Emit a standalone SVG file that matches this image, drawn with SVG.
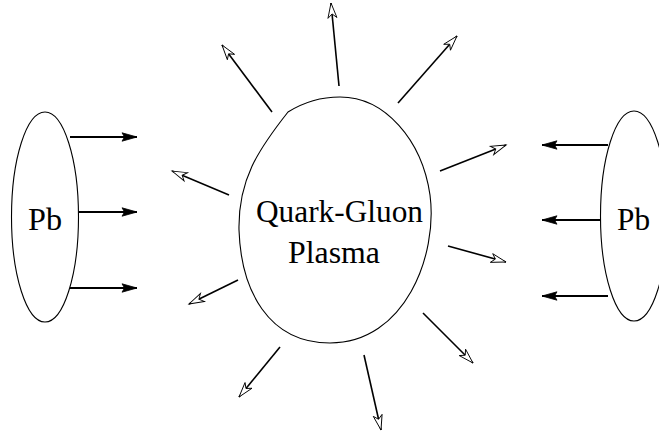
<svg xmlns="http://www.w3.org/2000/svg" width="659" height="434" viewBox="0 0 659 434">
<style>
.shape{fill:none;stroke:#000;stroke-width:1.1}
.fa{stroke:#000;stroke-width:1.8;fill:none;marker-end:url(#filled)}
.oa{stroke:#000;stroke-width:1.6;fill:none;marker-end:url(#open)}
.lbl{fill:#000;text-anchor:middle}
</style>
<defs>
<marker id="filled" markerUnits="userSpaceOnUse" markerWidth="20" markerHeight="12" viewBox="-18 -6 20 12" refX="0" refY="0" orient="auto">
<path d="M0,0 L-15,-4.2 L-12.5,0 L-15,4.2 Z" fill="#000" stroke="#000" stroke-width="0.8"/>
</marker>
<marker id="open" markerUnits="userSpaceOnUse" markerWidth="20" markerHeight="12" viewBox="-18 -6 20 12" refX="0" refY="0" orient="auto">
<path d="M0,0 L-15,-4.5 L-11,0 L-15,4.5 Z" fill="#fff" stroke="#000" stroke-width="0.9"/>
</marker>
</defs>
<g font-family="Liberation Serif, DejaVu Serif, serif">
<g id="pb-left">
<ellipse class="shape" cx="45" cy="217" rx="33.5" ry="105"/>
<text class="lbl" x="45" y="230" font-size="32" textLength="34" lengthAdjust="spacingAndGlyphs">Pb</text>
</g>
<g id="pb-right">
<ellipse class="shape" cx="634" cy="216" rx="33.5" ry="105"/>
<text class="lbl" x="633.5" y="230" font-size="32" textLength="33" lengthAdjust="spacingAndGlyphs">Pb</text>
</g>
<g id="qgp">
<path class="shape" d="M288,112 Q312,97 340,97 C385,97 422,140 430,195 C438,255 405,343 330,343 C268,343 241,290 239,230 C238,180 258,150 288,112 Z"/>
<text class="lbl" x="339.5" y="222" font-size="32" textLength="167" lengthAdjust="spacingAndGlyphs">Quark-Gluon</text>
<text class="lbl" x="334" y="263" font-size="32" textLength="92" lengthAdjust="spacingAndGlyphs">Plasma</text>
</g>
</g>
<g id="connectors">
<line class="fa" x1="70" y1="137" x2="137" y2="137"/>
<line class="fa" x1="79" y1="212" x2="137" y2="212"/>
<line class="fa" x1="70" y1="288" x2="137" y2="288"/>
<line class="fa" x1="608" y1="145" x2="542" y2="145"/>
<line class="fa" x1="600" y1="220" x2="542" y2="220"/>
<line class="fa" x1="608" y1="296" x2="542" y2="296"/>
<line class="oa" x1="272" y1="112" x2="222" y2="45"/>
<line class="oa" x1="339" y1="86" x2="331" y2="3"/>
<line class="oa" x1="398" y1="103" x2="457" y2="36"/>
<line class="oa" x1="440" y1="171" x2="506" y2="145"/>
<line class="oa" x1="448" y1="246" x2="506" y2="262"/>
<line class="oa" x1="423" y1="313" x2="473" y2="363"/>
<line class="oa" x1="364" y1="355" x2="381" y2="430"/>
<line class="oa" x1="280" y1="347" x2="239" y2="397"/>
<line class="oa" x1="238" y1="280" x2="189" y2="304"/>
<line class="oa" x1="229" y1="195" x2="172" y2="171"/>
</g>
</svg>
